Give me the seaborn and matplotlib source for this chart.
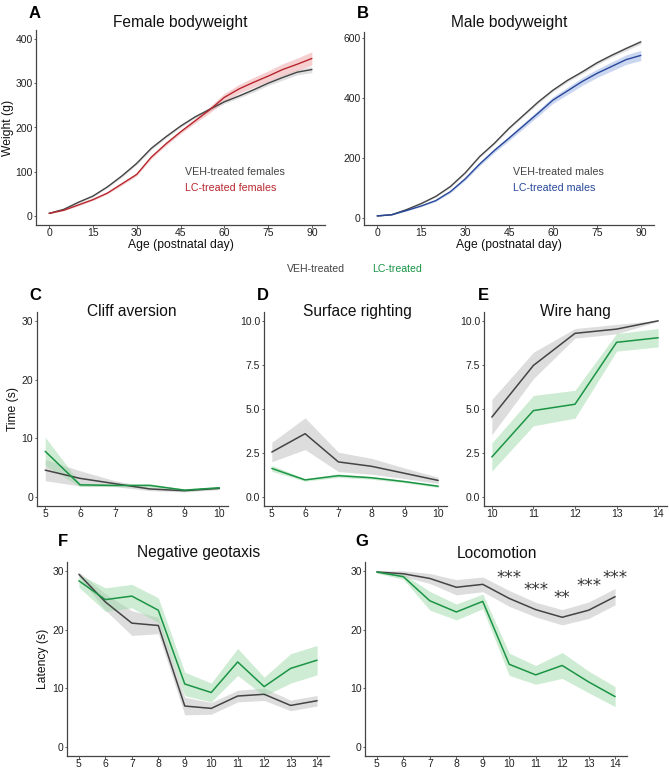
import numpy as np
import pandas as pd
import matplotlib
matplotlib.use("Agg")
import matplotlib.pyplot as plt
import seaborn as sns

W, H = 669, 770

# ---- A / B: bodyweight (read every 5 days) ----
bw_days = [0, 5, 10, 15, 20, 25, 30, 35, 40, 45, 50, 55, 60, 65, 70, 75, 80, 85, 90]
fem_veh = [6, 15, 31, 45, 66, 91, 119, 153, 179, 203, 224, 241, 258, 271, 285, 300, 313, 325, 331]
fem_veh_sem = [1, 1, 2, 2, 2, 3, 3, 3, 3, 3, 3, 4, 4, 4, 5, 5, 6, 6, 7]
fem_lc = [6, 13, 25, 37, 52, 73, 94, 133, 163, 190, 215, 240, 268, 287, 302, 316, 331, 343, 356]
fem_lc_sem = [1, 1, 2, 2, 2, 3, 3, 3, 4, 4, 5, 7, 9, 10, 11, 12, 13, 14, 15]
male_veh = [7, 11, 28, 48, 72, 105, 150, 205, 249, 299, 343, 387, 426, 459, 487, 517, 542, 565, 587]
male_veh_sem = [1, 1, 2, 2, 2, 3, 3, 3, 4, 4, 4, 5, 5, 5, 6, 6, 6, 7, 7]
male_lc = [7, 11, 25, 40, 58, 88, 130, 180, 225, 266, 308, 350, 393, 424, 455, 482, 505, 528, 542]
male_lc_sem = [1, 1, 2, 2, 3, 4, 5, 6, 7, 8, 9, 10, 11, 12, 13, 14, 15, 16, 17]

# ---- C: cliff aversion ----
cliff_days = [5, 6, 7, 8, 9, 10]
cliff_veh = [4.6, 3.2, 2.3, 1.4, 1.1, 1.5]
cliff_veh_sem = [1.8, 1.3, 0.5, 0.3, 0.2, 0.2]
cliff_lc = [7.8, 2.1, 2.0, 2.0, 1.2, 1.6]
cliff_lc_sem = [2.4, 0.3, 0.2, 0.3, 0.2, 0.2]

# ---- D: surface righting ----
surf_days = [5, 6, 7, 8, 9, 10]
surf_veh = [2.56, 3.6, 2.0, 1.75, 1.35, 0.95]
surf_veh_sem = [0.55, 0.9, 0.55, 0.45, 0.3, 0.18]
surf_lc = [1.63, 0.98, 1.22, 1.1, 0.88, 0.62]
surf_lc_sem = [0.17, 0.07, 0.1, 0.08, 0.07, 0.07]

# ---- E: wire hang ----
wire_days = [10, 11, 12, 13, 14]
wire_veh = [4.54, 7.47, 9.29, 9.53, 10.0]
wire_veh_sem = [1.0, 0.75, 0.27, 0.27, 0.03]
wire_lc = [2.28, 4.91, 5.27, 8.78, 9.04]
wire_lc_sem = [0.8, 0.86, 0.79, 0.5, 0.52]

# ---- F: negative geotaxis ----
geo_days = [5, 6, 7, 8, 9, 10, 11, 12, 13, 14]
geo_veh = [29.4, 24.7, 21.1, 20.7, 7.0, 6.6, 8.7, 9.0, 7.1, 7.9]
geo_veh_sem = [0.4, 1.4, 2.1, 1.4, 1.5, 1.0, 1.0, 1.05, 0.9, 0.9]
geo_lc = [28.3, 25.1, 25.7, 23.3, 10.75, 9.3, 14.5, 10.3, 13.4, 14.8]
geo_lc_sem = [1.1, 2.0, 2.0, 2.1, 2.0, 1.6, 2.3, 1.6, 2.5, 2.5]

# ---- G: locomotion ----
loco_days = [5, 6, 7, 8, 9, 10, 11, 12, 13, 14]
loco_veh = [29.8, 29.5, 28.7, 27.2, 27.7, 25.3, 23.4, 22.1, 23.3, 25.6]
loco_veh_sem = [0.2, 0.5, 0.85, 1.3, 1.25, 1.35, 1.25, 1.3, 1.4, 1.4]
loco_lc = [29.8, 29.0, 24.9, 23.0, 24.8, 14.1, 12.3, 13.9, 11.1, 8.6]
loco_lc_sem = [0.2, 0.45, 1.6, 1.35, 1.25, 1.9, 1.6, 2.2, 1.85, 1.7]
loco_star_days = [10, 11, 12, 13, 14]
loco_star_y = [28.7, 26.7, 25.3, 27.4, 28.7]
loco_stars = ["***", "***", "**", "***", "***"]

GREY = "#444444"
GREY_FILL = "#cccccc"
GREEN = "#1b9445"
GREEN_FILL = "#9fdaa8"
RED = "#b8262d"
RED_FILL = "#f0a9ac"
BLUE = "#27479a"
BLUE_FILL = "#a9bde8"
AXC = "#444444"

sns.set_theme(style="ticks")
plt.rcParams["font.family"] = ["Liberation Sans", "DejaVu Sans"]

fig = plt.figure(figsize=(W / 100, H / 100), dpi=100)


def add_ax(left, top, right, bottom):
    """Axes from pixel box (top-left origin)."""
    return fig.add_axes([left / W, 1 - bottom / H, (right - left) / W, (bottom - top) / H])


def ftext(x, y, s, **kw):
    fig.text(x / W, 1 - y / H, s, ha=kw.pop("ha", "center"), va=kw.pop("va", "center"), **kw)


def draw_series(ax, days, mean, sem, color, fill, alpha, lw=1.1):
    df = pd.DataFrame({"day": days, "value": mean, "sem": sem})
    ax.fill_between(df["day"], df["value"] - df["sem"], df["value"] + df["sem"],
                    color=fill, alpha=alpha, lw=0, zorder=1)
    sns.lineplot(data=df, x="day", y="value", ax=ax, color=color, lw=lw,
                 errorbar=None, zorder=3)


def style_ax(ax, xticks, yticks, xlim, ylim, yfmt=None):
    ax.set_xlim(*xlim)
    ax.set_ylim(*ylim)
    ax.set_xticks(xticks)
    ax.set_yticks(yticks)
    if yfmt:
        ax.set_yticklabels([yfmt.format(v) for v in yticks])
    ax.set_xlabel("")
    ax.set_ylabel("")
    sns.despine(ax=ax)
    for side in ("left", "bottom"):
        ax.spines[side].set_color(AXC)
        ax.spines[side].set_linewidth(0.9)
    ax.tick_params(length=1.8, width=0.6, color=AXC, labelsize=7.5,
                   labelcolor="#222222", pad=0.6)


# A
axA = add_ax(36, 30, 325, 225)
draw_series(axA, bw_days, fem_veh, fem_veh_sem, GREY, GREY_FILL, 0.6, 1.0)
draw_series(axA, bw_days, fem_lc, fem_lc_sem, RED, RED_FILL, 0.55, 1.0)
style_ax(axA, [0, 15, 30, 45, 60, 75, 90], [0, 100, 200, 300, 400], (-4.5, 94.5), (-20.3, 420.3))
axA.text(0.516, 0.272, "VEH-treated females", transform=axA.transAxes, color=GREY,
         fontsize=7.7, va="center")
axA.text(0.516, 0.19, "LC-treated females", transform=axA.transAxes, color=RED,
         fontsize=7.7, va="center")

# B
axB = add_ax(364, 32, 654, 225)
draw_series(axB, bw_days, male_veh, male_veh_sem, GREY, GREY_FILL, 0.6, 1.0)
draw_series(axB, bw_days, male_lc, male_lc_sem, BLUE, BLUE_FILL, 0.6, 1.0)
style_ax(axB, [0, 15, 30, 45, 60, 75, 90], [0, 200, 400, 600], (-4.5, 94.5), (-23.3, 620))
axB.text(0.514, 0.275, "VEH-treated males", transform=axB.transAxes, color=GREY,
         fontsize=7.7, va="center")
axB.text(0.514, 0.192, "LC-treated males", transform=axB.transAxes, color=BLUE,
         fontsize=7.7, va="center")

# C
axC = add_ax(36.5, 312, 228, 506)
draw_series(axC, cliff_days, cliff_veh, cliff_veh_sem, GREY, GREY_FILL, 0.65)
draw_series(axC, cliff_days, cliff_lc, cliff_lc_sem, GREEN, GREEN_FILL, 0.5)
style_ax(axC, cliff_days, [0, 10, 20, 30], (4.75, 10.25), (-1.5, 31.5))

# D
axD = add_ax(263.5, 312, 446.5, 506)
draw_series(axD, surf_days, surf_veh, surf_veh_sem, GREY, GREY_FILL, 0.65)
draw_series(axD, surf_days, surf_lc, surf_lc_sem, GREEN, GREEN_FILL, 0.5)
style_ax(axD, surf_days, [0, 2.5, 5, 7.5, 10], (4.75, 10.25), (-0.5, 10.5), "{:.1f}")

# E
axE = add_ax(483.5, 312, 666.5, 506)
draw_series(axE, wire_days, wire_veh, wire_veh_sem, GREY, GREY_FILL, 0.65)
draw_series(axE, wire_days, wire_lc, wire_lc_sem, GREEN, GREEN_FILL, 0.5)
style_ax(axE, wire_days, [0, 2.5, 5, 7.5, 10], (9.8, 14.2), (-0.5, 10.5), "{:.1f}")

# F
axF = add_ax(67, 562, 329, 756)
draw_series(axF, geo_days, geo_veh, geo_veh_sem, GREY, GREY_FILL, 0.65)
draw_series(axF, geo_days, geo_lc, geo_lc_sem, GREEN, GREEN_FILL, 0.5)
style_ax(axF, geo_days, [0, 10, 20, 30], (4.55, 14.45), (-1.5, 31.5))

# G
axG = add_ax(365, 562, 627, 756)
draw_series(axG, loco_days, loco_veh, loco_veh_sem, GREY, GREY_FILL, 0.65)
draw_series(axG, loco_days, loco_lc, loco_lc_sem, GREEN, GREEN_FILL, 0.5)
style_ax(axG, loco_days, [0, 10, 20, 30], (4.55, 14.45), (-1.5, 31.5))
for d, yv, s in zip(loco_star_days, loco_star_y, loco_stars):
    axG.text(d, yv, s, ha="center", va="center", fontsize=12, color="#333333",
             family=["DejaVu Sans"])

# titles, panel letters, labels
TFS = 11.2
ftext(180.5, 22, "Female bodyweight", fontsize=TFS, color="#111111")
ftext(509, 22, "Male bodyweight", fontsize=TFS, color="#111111")
ftext(132, 311, "Cliff aversion", fontsize=TFS, color="#111111")
ftext(357, 311, "Surface righting", fontsize=TFS, color="#111111")
ftext(575, 311, "Wire hang", fontsize=TFS, color="#111111")
ftext(199, 553, "Negative geotaxis", fontsize=TFS, color="#111111")
ftext(497, 553, "Locomotion", fontsize=TFS, color="#111111")

for lx, ly, lab in [(35, 14, "A"), (363, 14, "B"), (35, 296, "C"), (263, 296, "D"),
                    (483, 296, "E"), (63, 541, "F"), (362, 541, "G")]:
    ftext(lx, ly, lab, fontsize=12, fontweight="bold", color="#000000")

ftext(180.5, 245, "Age (postnatal day)", fontsize=8.7, color="#111111")
ftext(509, 245, "Age (postnatal day)", fontsize=8.7, color="#111111")
ftext(8, 127.5, "Weight (g)", fontsize=8.7, rotation=90, color="#111111")
ftext(13, 409, "Time (s)", fontsize=8.7, rotation=90, color="#111111")
ftext(43, 659, "Latency (s)", fontsize=8.7, rotation=90, color="#111111")

ftext(316, 269, "VEH-treated", fontsize=7.6, color=GREY)
ftext(397, 269, "LC-treated", fontsize=7.6, color=GREEN)

fig.savefig("out.png", dpi=100)
